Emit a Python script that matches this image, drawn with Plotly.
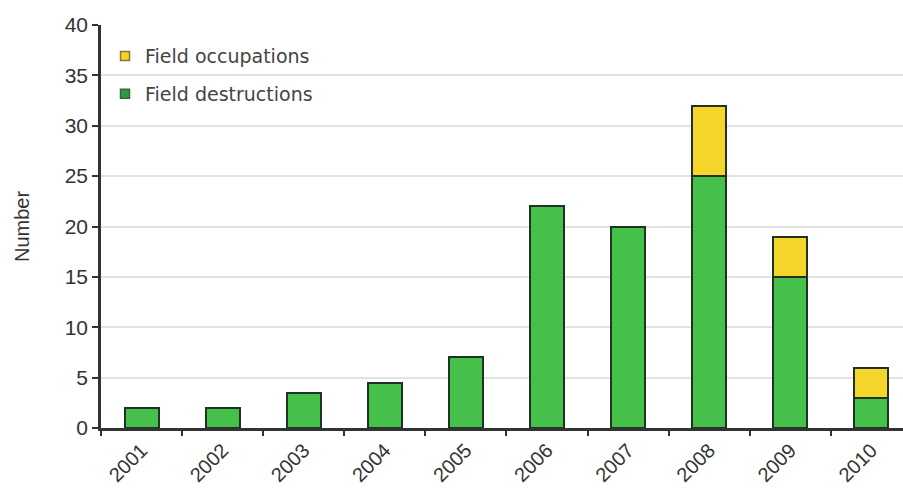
import plotly.graph_objects as go

years = [2001, 2002, 2003, 2004, 2005, 2006, 2007, 2008, 2009, 2010]
destructions = [2, 2, 3.5, 4.5, 7, 22, 20, 25, 15, 3]
occupations = [0, 0, 0, 0, 0, 0, 0, 7, 4, 3]
y_ticks = [0, 5, 10, 15, 20, 25, 30, 35, 40]

green = "#45c04a"
yellow = "#f6d52a"
edge = "#1f3320"

fig = go.Figure()
fig.add_trace(go.Bar(x=years, y=destructions, name="Field destructions",
                     marker=dict(color=green, line=dict(color=edge, width=2)),
                     width=0.42, showlegend=False))
fig.add_trace(go.Bar(x=years, y=occupations, name="Field occupations",
                     marker=dict(color=yellow, line=dict(color=edge, width=2)),
                     width=0.42, showlegend=False))
# legend entries (small square swatches)
fig.add_trace(go.Scatter(x=[None], y=[None], mode="markers", name="Field occupations",
                         legendgroup="a",
                         marker=dict(symbol="square", size=9, color=yellow,
                                     line=dict(color="#8a7a30", width=1.5))))
fig.add_trace(go.Scatter(x=[None], y=[None], mode="markers", name="Field destructions",
                         legendgroup="b",
                         marker=dict(symbol="square", size=9, color="#2f9a45",
                                     line=dict(color="#2f6a35", width=1.5))))

fig.update_layout(
    width=903, height=492,
    margin=dict(l=101, r=0, t=25, b=64),
    barmode="stack",
    plot_bgcolor="white", paper_bgcolor="white",
    font=dict(family="Liberation Sans, Arial", size=20, color="#333"),
    legend=dict(x=0.005, y=0.97, xanchor="left", yanchor="top",
                traceorder="grouped", bgcolor="rgba(0,0,0,0)",
                font=dict(family="DejaVu Sans", size=19, color="#444"),
                itemwidth=30, tracegroupgap=10),
    showlegend=True,
)
fig.update_xaxes(
    range=[2000.5, 2010.39],
    tickmode="array", tickvals=years, ticktext=[str(y) for y in years],
    tickangle=-45, ticks="", showgrid=False,
    showline=True, linecolor="#333", linewidth=2.5,
    tickfont=dict(size=20, color="#333"),
    minor=dict(tickmode="linear", tick0=2000.5, dtick=1, ticks="outside",
               ticklen=5, tickwidth=2, tickcolor="#333", showgrid=False),
)
fig.update_yaxes(
    range=[0, 40], tickmode="array", tickvals=y_ticks,
    showgrid=True, gridcolor="#e2e2e2", gridwidth=2,
    showline=True, linecolor="#333", linewidth=2.5,
    ticks="outside", ticklen=6, tickwidth=2, tickcolor="#333",
    tickfont=dict(size=21, color="#333"),
    title=dict(text="Number", font=dict(size=20, color="#333"), standoff=30),
    zeroline=False,
)

fig.write_html("out.html")
